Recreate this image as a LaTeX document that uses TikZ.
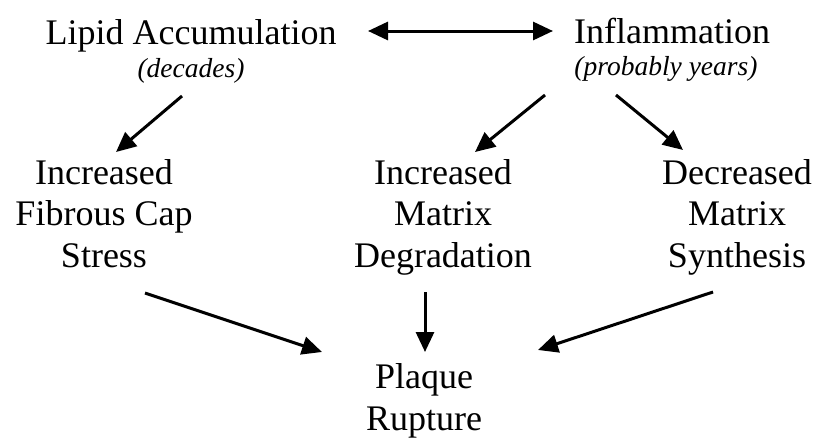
\documentclass[tikz,border=0pt]{standalone}
\usepackage{fontspec}
\setmainfont{Liberation Serif}
\usetikzlibrary{arrows.meta}

\begin{document}
\begin{tikzpicture}[x=1pt,y=-1pt,
  lbl/.style={align=center,inner sep=0pt,anchor=base,font=\fontsize{36}{41.5}\selectfont},
  note/.style={inner sep=0pt,anchor=base,font=\fontsize{27.5}{32}\selectfont\itshape},
  arr/.style={-{Triangle[length=20pt,width=18pt]},line width=3pt}]
\useasboundingbox (0,0) rectangle (818,439);
% top row
\node[lbl](lipid) at (191,44) {Lipid Accumulation};
\node[note](lipidt) at (191,77) {(decades)};
\node[lbl](infl) at (672,43) {Inflammation};
\node[note](inflt) at (666,75) {(probably years)};
\draw[arr,{Triangle[length=20pt,width=18pt]}-{Triangle[length=20pt,width=18pt]}]
  ([shift={(177,-13)}]lipid.base) -- ([shift={(-119,-12)}]infl.base);
% middle row
\node[lbl](fcs) at (104,267) {Increased\\Fibrous Cap\\Stress};
\node[lbl](deg) at (443,267) {Increased\\Matrix\\Degradation};
\node[lbl](syn) at (737,267) {Decreased\\Matrix\\Synthesis};
\draw[arr]([shift={(-9,52)}]lipid.base) -- ([shift={(12,-115)}]fcs.base);
\draw[arr]([shift={(-127,52)}]infl.base) -- ([shift={(32,-115)}]deg.base);
\draw[arr]([shift={(-56,52)}]infl.base) -- ([shift={(-54,-117)}]syn.base);
% bottom
\node[lbl](pr) at (424,430) {Plaque\\Rupture};
\draw[arr]([shift={(41,26)}]fcs.base) -- ([shift={(-102,-78)}]pr.base);
\draw[arr]([shift={(-18,25)}]deg.base) -- ([shift={(1,-78)}]pr.base);
\draw[arr]([shift={(-24,25)}]syn.base) -- ([shift={(114,-80)}]pr.base);
\end{tikzpicture}
\end{document}
